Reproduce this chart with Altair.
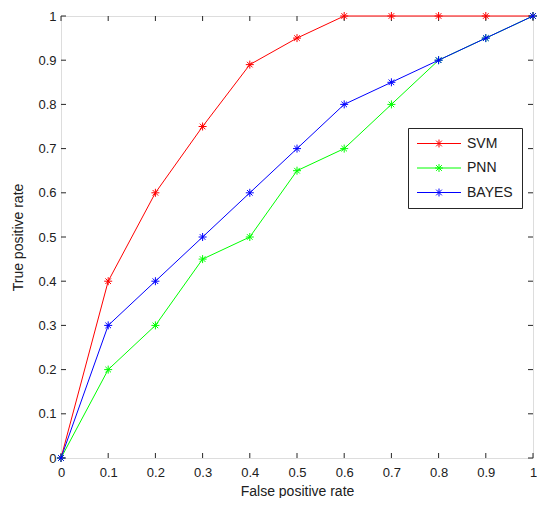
import altair as alt
import pandas as pd

fpr = [0.0, 0.1, 0.2, 0.3, 0.4, 0.5, 0.6, 0.7, 0.8, 0.9, 1.0]
svm = [0.0, 0.4, 0.6, 0.75, 0.89, 0.95, 1.0, 1.0, 1.0, 1.0, 1.0]
pnn = [0.0, 0.2, 0.3, 0.45, 0.5, 0.65, 0.7, 0.8, 0.9, 0.95, 1.0]
bayes = [0.0, 0.3, 0.4, 0.5, 0.6, 0.7, 0.8, 0.85, 0.9, 0.95, 1.0]
models = ["SVM", "PNN", "BAYES"]
colors = ["#ff0000", "#00ff00", "#0000ff"]
tick_values = [0.0, 0.1, 0.2, 0.3, 0.4, 0.5, 0.6, 0.7, 0.8, 0.9, 1.0]

rows = []
for name, vals in zip(models, [svm, pnn, bayes]):
    for x, y in zip(fpr, vals):
        rows.append({"model": name, "fpr": x, "tpr": y})
df = pd.DataFrame(rows)
ticks = pd.DataFrame({"t": tick_values})

W, H = 472, 442
FONT = "Liberation Sans"
TXT = "#202020"

star = "M-1,0L1,0M0,-1L0,1M-0.7,-0.7L0.7,0.7M-0.7,0.7L0.7,-0.7"
legend_sym = ("M-1,0L1,0M-0.18,0L0.18,0M0,-0.18L0,0.18"
              "M-0.13,-0.13L0.13,0.13M-0.13,0.13L0.13,-0.13")

xs = alt.Scale(domain=[0, 1], nice=False, zero=False)
ys = alt.Scale(domain=[0, 1], nice=False, zero=False)

legend = alt.Legend(
    title=None, orient="none", legendX=347, legendY=112,
    symbolType=legend_sym, symbolSize=1936, symbolStrokeWidth=1,
    strokeColor="#262626", fillColor="white", padding=8.5,
    labelFont=FONT, labelFontSize=14, labelColor=TXT, labelOffset=5.5,
    clipHeight=14, rowPadding=10.5,
)
color = alt.Color("model:N", scale=alt.Scale(domain=models, range=colors),
                  sort=models, legend=legend)

xaxis = alt.Axis(values=tick_values, format="~g", ticks=False, domain=False, grid=False,
                 labelFlush=False, labelOverlap=False,
                 labelFont=FONT, labelFontSize=13, labelColor=TXT, labelPadding=8,
                 title="False positive rate", titleFont=FONT, titleFontSize=14,
                 titleFontWeight="normal", titleColor=TXT, titlePadding=5)
yaxis = alt.Axis(values=tick_values, format="~g", ticks=False, domain=False, grid=False,
                 labelFlush=False, labelOverlap=False,
                 labelFont=FONT, labelFontSize=13, labelColor=TXT, labelPadding=5,
                 title="True positive rate", titleFont=FONT, titleFontSize=14,
                 titleFontWeight="normal", titleColor=TXT, titlePadding=12)

base = alt.Chart(df)
layers = []
tk = alt.Chart(ticks)
tick_color = "#262626"
layers.append(tk.mark_rule(color=tick_color, strokeWidth=1).encode(
    x=alt.X("t:Q", scale=xs), y=alt.value(H), y2=alt.value(H - 5)))
layers.append(tk.mark_rule(color=tick_color, strokeWidth=1).encode(
    x=alt.X("t:Q", scale=xs), y=alt.value(0), y2=alt.value(5)))
layers.append(tk.mark_rule(color=tick_color, strokeWidth=1).encode(
    y=alt.Y("t:Q", scale=ys), x=alt.value(0), x2=alt.value(5)))
layers.append(tk.mark_rule(color=tick_color, strokeWidth=1).encode(
    y=alt.Y("t:Q", scale=ys), x=alt.value(W), x2=alt.value(W - 5)))

for name in models:
    sub = base.transform_filter(alt.datum.model == name)
    layers.append(sub.mark_line(strokeWidth=1).encode(
        x=alt.X("fpr:Q", scale=xs, axis=xaxis),
        y=alt.Y("tpr:Q", scale=ys, axis=yaxis),
        color=color, order="fpr:Q"))
    layers.append(sub.mark_point(shape=star, size=64, filled=False, strokeWidth=1, opacity=1).encode(
        x=alt.X("fpr:Q", scale=xs), y=alt.Y("tpr:Q", scale=ys), color=color))

chart = alt.layer(*layers).properties(
    width=W, height=H,
    autosize=alt.AutoSizeParams(type="none"),
    padding={"left": 53, "top": 8, "right": 4, "bottom": 40},
).configure_view(stroke="#262626", strokeWidth=1).configure(background="white")

chart.save("out.html", embed_options={"renderer": "svg", "actions": False})
